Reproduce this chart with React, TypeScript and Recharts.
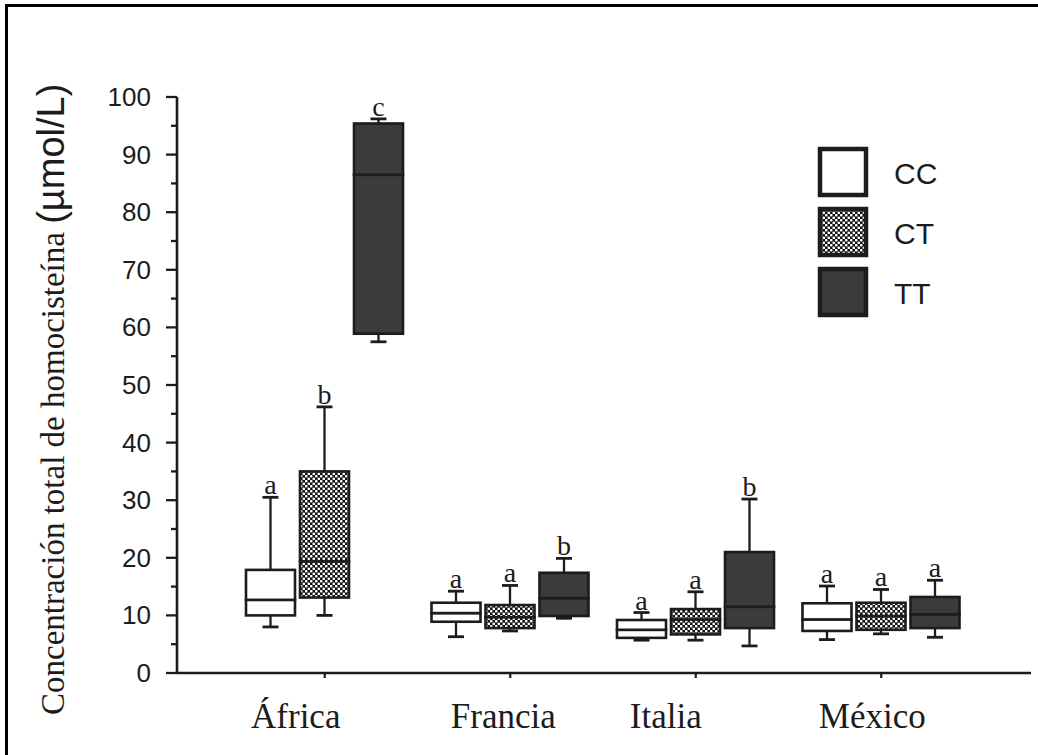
import React from 'react';
import { ComposedChart, Bar, XAxis, YAxis, Legend } from 'recharts';

// ---- data ----
const categories = ['África', 'Francia', 'Italia', 'México'];
const genotypes = ['CC', 'CT', 'TT'];

const ccMin = [8.0, 6.3, 5.7, 5.8];
const ccQ1 = [10.0, 8.9, 6.1, 7.3];
const ccMed = [12.7, 10.4, 7.5, 9.3];
const ccQ3 = [17.9, 12.2, 9.2, 12.1];
const ccMax = [30.5, 14.2, 10.5, 15.1];
const ccLetters = ['a', 'a', 'a', 'a'];

const ctMin = [10.0, 7.3, 5.7, 6.8];
const ctQ1 = [13.1, 7.8, 6.7, 7.5];
const ctMed = [19.4, 9.7, 9.3, 9.9];
const ctQ3 = [35.0, 11.8, 11.1, 12.2];
const ctMax = [46.2, 15.2, 14.1, 14.5];
const ctLetters = ['b', 'a', 'a', 'a'];

const ttMin = [57.5, 9.5, 4.7, 6.2];
const ttQ1 = [58.9, 9.9, 7.8, 7.8];
const ttMed = [86.5, 13.0, 11.5, 10.2];
const ttQ3 = [95.4, 17.4, 21.0, 13.2];
const ttMax = [96.2, 19.9, 30.2, 16.1];
const ttLetters = ['c', 'b', 'b', 'a'];

const yTicks = [0, 5, 10, 15, 20, 25, 30, 35, 40, 45, 50, 55, 60, 65, 70, 75, 80, 85, 90, 95, 100];
const yTitleMain = 'Concentración total de homocisteína ';
const yTitleUnit = '(µmol/L)';

// ---- styling ----
const INK = '#1c1c1c';
const SERIF = '"Liberation Serif", "Times New Roman", serif';
const SANS = '"Liberation Sans", Arial, sans-serif';
const boxFill: Record<string, string> = { CC: '#ffffff', CT: 'url(#ctDots)', TT: '#3b3b3b' };
const xLabelNudge: Record<string, number> = { 'África': -29, Francia: -7, Italia: -30, 'México': -9 };

const stats: Record<string, any> = {
  CC: { min: ccMin, q1: ccQ1, med: ccMed, q3: ccQ3, max: ccMax, letters: ccLetters },
  CT: { min: ctMin, q1: ctQ1, med: ctMed, q3: ctQ3, max: ctMax, letters: ctLetters },
  TT: { min: ttMin, q1: ttQ1, med: ttMed, q3: ttQ3, max: ttMax, letters: ttLetters },
};

const data = categories.map((name, i) => {
  const row: any = { name };
  genotypes.forEach((g) => {
    const s = stats[g];
    row[`${g}_base`] = s.min[i];
    row[`${g}_lw`] = s.q1[i] - s.min[i];
    row[`${g}_lb`] = s.med[i] - s.q1[i];
    row[`${g}_ub`] = s.q3[i] - s.med[i];
    row[`${g}_uw`] = s.max[i] - s.q3[i];
    row[`${g}_letter`] = s.letters[i];
  });
  return row;
});

const EmptyShape = () => <g />;

const LowerWhisker = (props: any) => {
  const { x, y, width, height } = props;
  const cx = x + width / 2;
  const bottom = y + height;
  return (
    <g>
      <line x1={cx} x2={cx} y1={y} y2={bottom} stroke={INK} strokeWidth={2.3} />
      <line x1={cx - 8} x2={cx + 8} y1={bottom} y2={bottom} stroke={INK} strokeWidth={2.8} />
    </g>
  );
};

const makeBoxShape = (g: string) => (props: any) => {
  const { x, y, width, height } = props;
  return <rect x={x} y={y} width={width} height={height} fill={boxFill[g]} stroke={INK} strokeWidth={2.6} />;
};

const makeUpperWhisker = (g: string) => (props: any) => {
  const { x, y, width, height, payload } = props;
  const cx = x + width / 2;
  const bottom = y + height;
  const letter = payload ? payload[`${g}_letter`] : '';
  return (
    <g>
      <line x1={cx} x2={cx} y1={y} y2={bottom} stroke={INK} strokeWidth={2.3} />
      <line x1={cx - 8} x2={cx + 8} y1={y} y2={y} stroke={INK} strokeWidth={2.8} />
      <text x={cx} y={y - 3} textAnchor="middle" fontFamily={SERIF} fontSize={28} fill={INK}>
        {letter}
      </text>
    </g>
  );
};

const YTick = (props: any) => {
  const { x, y, payload } = props;
  const v = payload.value;
  const major = v % 10 === 0;
  return (
    <g>
      <line x1={x - (major ? 11 : 6)} x2={x} y1={y} y2={y} stroke={INK} strokeWidth={2.3} />
      {major && (
        <text x={x - 26} y={y + 9} textAnchor="end" fontFamily={SANS} fontSize={26} fill={INK}>
          {v}
        </text>
      )}
    </g>
  );
};

const XTick = (props: any) => {
  const { x, y, payload } = props;
  const nudge = xLabelNudge[payload.value] || 0;
  return (
    <text x={x + nudge} y={y + 48} textAnchor="middle" fontFamily={SERIF} fontSize={35} fill={INK}>
      {payload.value}
    </text>
  );
};

const YTitle = (props: any) => {
  const vb = props.viewBox || { x: 0, y: 97, width: 177, height: 576 };
  const tx = vb.x + 64;
  const ty = vb.y + vb.height + 42;
  return (
    <text transform={`translate(${tx},${ty}) rotate(-90)`} x={0} y={0} fill={INK}>
      <tspan fontFamily={SERIF} fontSize={33}>{yTitleMain}</tspan>
      <tspan fontFamily={SANS} fontSize={38}>{yTitleUnit}</tspan>
    </text>
  );
};

const LegendBox = () => (
  <svg width={210} height={180}>
    {genotypes.map((g, i) => (
      <g key={g}>
        <rect x={5} y={5 + i * 60} width={46} height={46} fill={boxFill[g]} stroke={INK} strokeWidth={4.5} />
        <text x={79} y={40 + i * 60} fontFamily={SANS} fontSize={30} fill={INK}>
          {g}
        </text>
      </g>
    ))}
  </svg>
);

export default function App() {
  return (
    <div style={{ position: 'absolute', left: 0, top: 0, width: 1038, height: 755, background: '#fff' }}>
      <svg width={0} height={0} style={{ position: 'absolute' }}>
        <defs>
          <pattern id="ctDots" width="5" height="5" patternUnits="userSpaceOnUse">
            <rect width="5" height="5" fill="#111" />
            <circle cx="1.25" cy="1.25" r="1.35" fill="#fff" />
            <circle cx="3.75" cy="3.75" r="1.35" fill="#fff" />
          </pattern>
        </defs>
      </svg>
      <div
        style={{
          position: 'absolute',
          left: 5,
          top: 4,
          width: 1040,
          height: 760,
          borderTop: '3px solid #000',
          borderLeft: '3px solid #000',
        }}
      />
      <div style={{ position: 'absolute', left: 0, top: 0 }}>
        <ComposedChart
          width={1038}
          height={755}
          data={data}
          margin={{ top: 97, right: 7, bottom: 0, left: 0 }}
          barSize={49}
          barGap={5}
        >
          <XAxis
            dataKey="name"
            xAxisId={0}
            padding={{ left: 55, right: 57 }}
            height={82}
            tickSize={5}
            tickMargin={2}
            tickLine={{ stroke: INK, strokeWidth: 2.2 }}
            axisLine={{ stroke: INK, strokeWidth: 2.6 }}
            tick={<XTick />}
            interval={0}
          />
          <XAxis
            dataKey="name"
            xAxisId="top"
            orientation="top"
            padding={{ left: 55, right: 57 }}
            height={0}
            tick={false}
            tickLine={false}
            axisLine={{ stroke: INK, strokeWidth: 2.6 }}
          />
          <YAxis
            yAxisId={0}
            type="number"
            domain={[0, 100]}
            ticks={yTicks}
            interval={0}
            allowDataOverflow
            width={177}
            tickSize={0}
            tickMargin={0}
            tickLine={false}
            axisLine={{ stroke: INK, strokeWidth: 2.6 }}
            tick={<YTick />}
            label={<YTitle />}
          />
          <YAxis
            yAxisId="right"
            orientation="right"
            type="number"
            domain={[0, 100]}
            width={0}
            tick={false}
            tickLine={false}
            axisLine={{ stroke: INK, strokeWidth: 2.6 }}
          />
          <Legend
            layout="vertical"
            align="center"
            verticalAlign="middle"
            wrapperStyle={{ left: 815, top: 144, width: 210, height: 180 }}
            content={<LegendBox />}
          />
          {genotypes.flatMap((g) => [
            <Bar key={`${g}_base`} dataKey={`${g}_base`} stackId={g} shape={<EmptyShape />} isAnimationActive={false} legendType="none" />,
            <Bar key={`${g}_lw`} dataKey={`${g}_lw`} stackId={g} shape={LowerWhisker} isAnimationActive={false} legendType="none" />,
            <Bar key={`${g}_lb`} dataKey={`${g}_lb`} stackId={g} shape={makeBoxShape(g)} isAnimationActive={false} legendType="none" />,
            <Bar key={`${g}_ub`} dataKey={`${g}_ub`} stackId={g} shape={makeBoxShape(g)} isAnimationActive={false} legendType="none" />,
            <Bar key={`${g}_uw`} dataKey={`${g}_uw`} stackId={g} shape={makeUpperWhisker(g)} isAnimationActive={false} legendType="none" />,
          ])}
        </ComposedChart>
      </div>
    </div>
  );
}
